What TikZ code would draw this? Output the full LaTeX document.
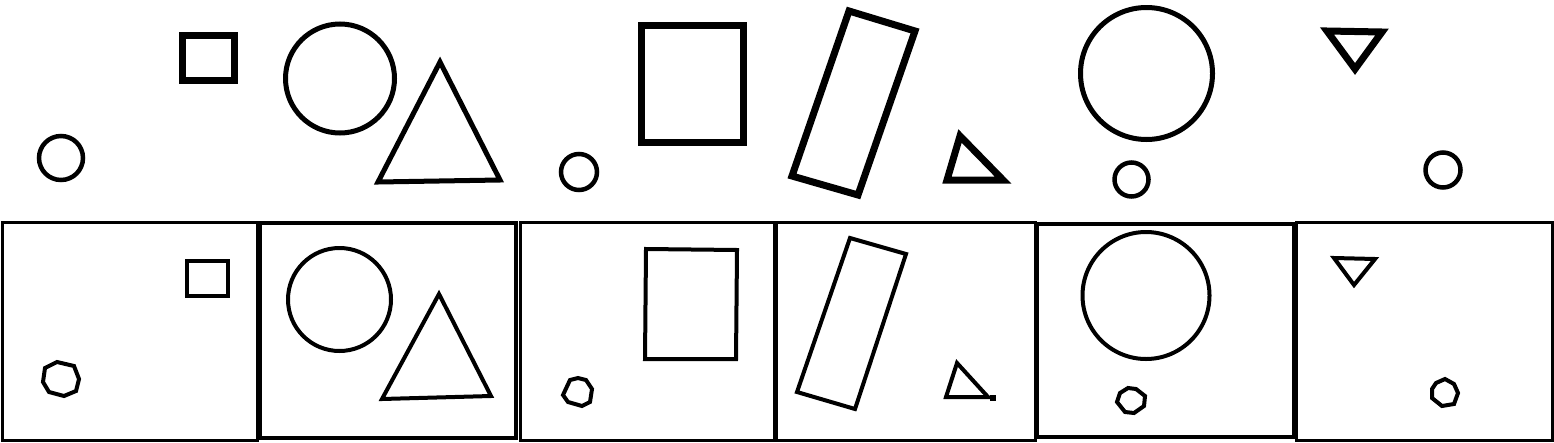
\documentclass[tikz,border=0pt]{standalone}
\begin{document}
\begin{tikzpicture}[x=1pt,y=-1pt,
  thin shape/.style={draw=black,line width=4.5pt,line join=miter},
  mid shape/.style={draw=black,line width=5pt,line join=miter},
  thick shape/.style={draw=black,line width=7pt,line join=miter},
  panel/.style={draw=black,line width=3pt},
  poly/.style={draw=black,line width=4pt,line join=miter}]
\useasboundingbox (0,0) rectangle (1554,442);
% ---------- top row ----------
\draw[thin shape] (61,158) circle (22);
\draw[thick shape] (182,35) rectangle (234,80);
\draw[mid shape] (340,78.5) circle (54.5);
\draw[mid shape] (440,62) -- (378,182) -- (500,180) -- cycle;
\draw[thin shape] (579,172) circle (18);
\draw[thick shape] (641,25) rectangle (743,142);
\draw[thick shape] (849,11) -- (915,31) -- (858,195) -- (792,176) -- cycle;
\draw[thick shape] (960,136) -- (947,180) -- (1003,180) -- cycle;
\draw[mid shape] (1146.5,73.5) circle (66);
\draw[thin shape] (1131.5,179.5) circle (17);
\draw[thick shape] (1327,31) -- (1382,32) -- (1355,69) -- cycle;
\draw[thin shape] (1443,170) circle (17.5);
% ---------- bottom row panels ----------
\draw[panel] (2,222) rectangle (257,440);
\draw[panel,line width=4pt] (260,223) rectangle (516,438);
\draw[panel] (520,222) rectangle (774,440);
\draw[panel] (776,222) rectangle (1035,440);
\draw[panel,line width=4pt] (1037,224) rectangle (1294,437);
\draw[panel] (1296,222) rectangle (1552,440);
% panel 1
\draw[poly] (187,261) rectangle (228,296);
\draw[poly] (57,362) -- (74,366) -- (79,379) -- (76,391) -- (64,396) -- (49,392) -- (43,382) -- (45,368) -- cycle;
% panel 2
\draw[poly] (339.5,299.5) circle (51.5);
\draw[poly] (439,294) -- (382,399) -- (491,396) -- cycle;
% panel 3
\draw[poly] (646,249) -- (737,250) -- (736,359) -- (645,359) -- cycle;
\draw[poly] (570,380) -- (578,378) -- (586,380) -- (592,389) -- (590,402) -- (582,406) -- (568,402) -- (563,395) -- cycle;
% panel 4
\draw[poly] (850,238) -- (906,254) -- (855,409) -- (797,392) -- cycle;
\draw[poly] (957,363) -- (946,397) -- (988,397) -- cycle;
\fill[black] (990,395) rectangle (996,401);
% panel 5
\draw[poly] (1146,295.5) circle (63.5);
\draw[poly] (1120,393) -- (1128,388) -- (1136,389) -- (1145,396) -- (1144,406) -- (1134,413) -- (1125,412) -- (1117,402) -- cycle;
% panel 6
\draw[poly] (1334,258) -- (1375,259) -- (1354,285) -- cycle;
\draw[poly] (1436,383) -- (1445,379) -- (1454,384) -- (1458,393) -- (1454,404) -- (1442,406) -- (1432,398) -- (1432,389) -- cycle;
\end{tikzpicture}
\end{document}
